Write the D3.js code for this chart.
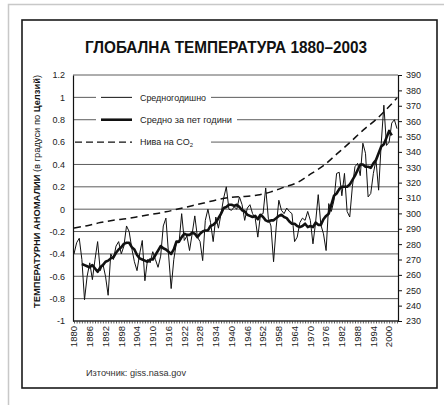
<!DOCTYPE html>
<html><head><meta charset="utf-8">
<script src="https://cdn.jsdelivr.net/npm/d3@7"></script>
<style>body{margin:0;background:#fff}svg{display:block}</style>
</head><body>
<svg id="c" width="444" height="405"></svg>
<script>
// ---- data ----
const annualYears = d3.range(1880, 2004);
const annualValues = [
 -0.40,-0.30,-0.26,-0.45,-0.81,-0.60,-0.48,-0.63,-0.45,-0.29,
 -0.55,-0.49,-0.60,-0.77,-0.40,-0.45,-0.33,-0.29,-0.40,-0.33,
 -0.15,-0.20,-0.35,-0.47,-0.55,-0.40,-0.28,-0.64,-0.45,-0.48,
 -0.38,-0.45,-0.52,-0.42,-0.15,-0.08,-0.40,-0.71,-0.45,-0.30,
 -0.30,-0.04,-0.28,-0.24,-0.37,-0.22,-0.06,-0.25,-0.29,-0.46,
 -0.10,0.00,-0.12,-0.29,-0.07,-0.17,-0.04,0.10,0.20,0.00,
 -0.01,0.02,0.00,0.11,0.04,-0.10,0.01,0.04,-0.04,-0.08,
 -0.25,-0.05,-0.04,0.19,-0.08,-0.15,-0.47,-0.16,0.08,-0.01,
 -0.04,0.01,-0.02,-0.04,-0.29,-0.25,-0.12,-0.08,-0.10,-0.02,
 -0.10,-0.31,-0.12,0.13,-0.14,-0.22,-0.37,0.05,-0.02,0.08,
 0.32,0.33,0.12,0.32,-0.02,-0.07,0.20,0.38,0.41,0.30,
 0.59,0.50,0.11,0.14,0.32,0.44,0.17,0.59,0.93,0.57,
 0.60,0.77,0.80,0.72
];
const fiveYearYears = d3.range(1883, 2002);
const fiveYearValues = [
 -0.49,-0.50,-0.51,-0.52,-0.50,-0.53,-0.56,-0.52,-0.50,-0.47,
 -0.46,-0.44,-0.43,-0.39,-0.36,-0.34,-0.31,-0.30,-0.30,-0.34,
 -0.36,-0.41,-0.44,-0.45,-0.46,-0.47,-0.45,-0.45,-0.41,-0.37,
 -0.33,-0.35,-0.36,-0.38,-0.40,-0.36,-0.29,-0.29,-0.25,-0.22,
 -0.23,-0.23,-0.21,-0.22,-0.25,-0.22,-0.20,-0.19,-0.19,-0.15,
 -0.14,-0.12,-0.08,-0.04,0.01,0.02,0.04,0.04,0.03,0.04,
 0.02,-0.01,-0.02,-0.05,-0.06,-0.07,-0.06,-0.09,-0.05,-0.07,
 -0.10,-0.11,-0.10,-0.10,-0.08,-0.06,-0.05,-0.07,-0.08,-0.11,
 -0.13,-0.13,-0.15,-0.16,-0.15,-0.13,-0.16,-0.15,-0.16,-0.12,
 -0.14,-0.14,-0.09,-0.06,-0.04,0.04,0.12,0.14,0.18,0.20,
 0.20,0.20,0.22,0.26,0.30,0.35,0.40,0.40,0.38,0.38,
 0.37,0.41,0.44,0.50,0.56,0.58,0.64,0.70,0.66
];
const co2Years  = [1880,1885,1890,1895,1900,1905,1910,1915,1920,1925,1930,1935,1940,1945,1950,1955,1960,1965,1970,1975,1980,1985,1990,1995,2000,2003];
const co2Values = [290.5,292,294,295.5,296.5,298,299.5,301,303,305,307,309,310.5,311,312,314,317,320,325.5,331,338.5,346,354,361,369.5,375];
const leftTicks = [-1,-0.8,-0.6,-0.4,-0.2,0,0.2,0.4,0.6,0.8,1,1.2];
const leftTickLabels = ["-1","-0.8","-0.6","-0.4","-0.2","0","0.2","0.4","0.6","0.8","1","1.2"];
const rightTicks = [230,240,250,260,270,280,290,300,310,320,330,340,350,360,370,380,390];
const xTickYears = [1880,1886,1892,1898,1904,1910,1916,1922,1928,1934,1940,1946,1952,1958,1964,1970,1976,1982,1988,1994,2000];
const legendLabels = ["Средногодишно","Средно за пет години","Нива на CO"];
const titleText = "ГЛОБАЛНА ТЕМПЕРАТУРА 1880–2003";
const sourceText = "Източник: giss.nasa.gov";

// ---- drawing ----
const svg = d3.select("#c");
const font = "'Liberation Sans Narrow','Arial Narrow','Liberation Sans',Arial,sans-serif";
const x = d3.scaleLinear().domain([1880, 2003]).range([74, 397]);
const yL = d3.scaleLinear().domain([-1, 1.2]).range([321, 75]);
const yR = d3.scaleLinear().domain([230, 390]).range([321, 75]);
const X0 = 73, X1 = 398;

// page border & frame
svg.append("path").attr("d","M8.5,405 V4.5 H444").attr("fill","none").attr("stroke","#c8c8c8").attr("stroke-width",1.5);
svg.append("rect").attr("x",22).attr("y",20).attr("width",415).attr("height",368)
  .attr("fill","none").attr("stroke","#1a1a1a").attr("stroke-width",1.6);

// title
svg.append("text").attr("x",85).attr("y",53)
  .attr("font-family",font).attr("font-weight","bold").attr("font-size",17)
  .attr("textLength",282).attr("lengthAdjust","spacingAndGlyphs")
  .attr("fill","#111").text(titleText);

// gridlines
svg.append("g").selectAll("line").data(leftTicks).join("line")
  .attr("x1",X0).attr("x2",X1).attr("y1",d=>yL(d)).attr("y2",d=>yL(d))
  .attr("stroke","#4a4a4a").attr("stroke-width",0.9);

// legend (over gridlines)
const legRows = [1, 0.8, 0.6];
const legTextW = [66, 92, null];
const lg = svg.append("g").attr("font-family",font).attr("font-size",9).attr("fill","#222");
legRows.forEach((v,i)=>{
  const yy = yL(v);
  const bx = i===2 ? 74 : 96;
  const ex = i===1 ? 237 : 211;
  lg.append("rect").attr("x",bx).attr("y",yy-5).attr("width",ex-bx).attr("height",10).attr("fill","#fff");
});
lg.append("line").attr("x1",101).attr("x2",132).attr("y1",yL(1)).attr("y2",yL(1)).attr("stroke","#111").attr("stroke-width",1);
lg.append("line").attr("x1",101).attr("x2",132).attr("y1",yL(0.8)).attr("y2",yL(0.8)).attr("stroke","#111").attr("stroke-width",2.6);
lg.append("line").attr("x1",75).attr("x2",132).attr("y1",yL(0.6)).attr("y2",yL(0.6)).attr("stroke","#111").attr("stroke-width",1.4).attr("stroke-dasharray","7,4");
legRows.forEach((v,i)=>{
  const t = lg.append("text").attr("x",140).attr("y",yL(v)+3.2);
  if (legTextW[i]) {
    t.attr("textLength",legTextW[i]).attr("lengthAdjust","spacingAndGlyphs").text(legendLabels[i]);
  } else {
    t.append("tspan").text(legendLabels[i]);
    t.append("tspan").attr("font-size",6).attr("dy",2.2).text("2");
  }
});

// data lines
const lineA = d3.line().x((d,i)=>x(annualYears[i])).y(d=>yL(d));
svg.append("path").datum(annualValues).attr("d",lineA).attr("fill","none").attr("stroke","#111").attr("stroke-width",1).attr("stroke-linejoin","round");
const line5 = d3.line().x((d,i)=>x(fiveYearYears[i])).y(d=>yL(d));
svg.append("path").datum(fiveYearValues).attr("d",line5).attr("fill","none").attr("stroke","#111").attr("stroke-width",2.6).attr("stroke-linejoin","round");
const lineC = d3.line().x((d,i)=>x(co2Years[i])).y(d=>yR(d)).curve(d3.curveMonotoneX);
svg.append("path").datum(co2Values).attr("d",lineC).attr("fill","none").attr("stroke","#111").attr("stroke-width",1.5).attr("stroke-dasharray","7,4.5");

// left axis
const ga = svg.append("g").attr("transform",`translate(${X0},0)`)
  .call(d3.axisLeft(yL).tickValues(leftTicks).tickSize(0).tickPadding(8).tickFormat((d,i)=>leftTickLabels[i]));
ga.select(".domain").attr("stroke","#111").attr("stroke-width",1.2);
ga.selectAll("text").attr("font-family",font).attr("font-size",9).attr("fill","#222");

// right axis
const gr = svg.append("g").attr("transform",`translate(${X1},0)`)
  .call(d3.axisRight(yR).tickValues(rightTicks).tickSize(4).tickPadding(4).tickFormat(d3.format("d")));
gr.select(".domain").attr("stroke","#111").attr("stroke-width",1.2);
gr.selectAll("line").attr("stroke","#111");
gr.selectAll("text").attr("font-family",font).attr("font-size",9).attr("fill","#222");

// bottom axis: yearly ticks
const gb = svg.append("g").attr("transform",`translate(0,321)`)
  .call(d3.axisBottom(x).tickValues(annualYears).tickSize(2.5).tickFormat(""));
gb.select(".domain").attr("d",`M${X0},0H${X1}`).attr("stroke","#111").attr("stroke-width",1.2);
gb.selectAll(".tick line").attr("stroke","#333").attr("stroke-width",0.8);
const gl = svg.append("g").attr("font-family",font).attr("font-size",9.5).attr("fill","#222");
gl.selectAll("text").data(xTickYears).join("text")
  .attr("transform",d=>`translate(${x(d)},326) rotate(-90)`)
  .attr("text-anchor","end").attr("dy","0.35em").text(d=>d);

// y-axis title
const yt = svg.append("text").attr("transform","translate(40,308) rotate(-90)")
  .attr("font-family",font).attr("font-size",9.5).attr("fill","#111")
  .attr("textLength",233).attr("lengthAdjust","spacingAndGlyphs");
yt.append("tspan").attr("font-weight","bold").text("ТЕМПЕРАТУРНИ АНОМАЛИИ ");
yt.append("tspan").text("(в градуси по ");
yt.append("tspan").attr("font-weight","bold").text("Целзий");
yt.append("tspan").text(")");

// source
svg.append("text").attr("x",86).attr("y",376).attr("font-family",font).attr("font-size",9)
  .attr("textLength",100).attr("lengthAdjust","spacingAndGlyphs").attr("fill","#333").text(sourceText);
</script>
</body></html>
